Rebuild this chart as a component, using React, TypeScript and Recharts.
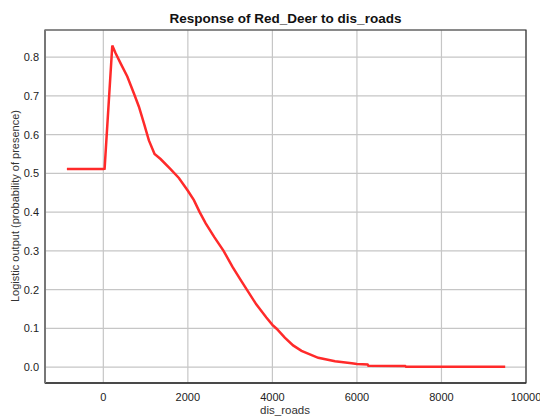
import { LineChart, Line, XAxis, YAxis, CartesianGrid, ReferenceArea, Label } from 'recharts'

// distance to roads (m) and the logistic response
const distRoads = [
  -862, 0, 30, 212, 291, 409, 567, 724, 842, 961, 1078, 1212, 1354, 1590, 1787, 2000, 2143, 2279,
  2422, 2622, 2845, 3060, 3259, 3395, 3618, 3857, 4000, 4100, 4293, 4490, 4689, 5085, 5481, 5877,
  6000, 6250, 6270, 7140, 7160, 9508,
]
const response = [
  0.511, 0.511, 0.512, 0.83, 0.81, 0.784, 0.75, 0.706, 0.672, 0.629, 0.585, 0.55, 0.537, 0.511,
  0.488, 0.455, 0.431, 0.4, 0.371, 0.336, 0.3, 0.258, 0.223, 0.2, 0.162, 0.128, 0.109, 0.099,
  0.076, 0.056, 0.042, 0.024, 0.015, 0.01, 0.008, 0.007, 0.0035, 0.003, 0.001, 0.0008,
]

const xTicks = [0, 2000, 4000, 6000, 8000, 10000]
const yTicks = [0, 0.1, 0.2, 0.3, 0.4, 0.5, 0.6, 0.7, 0.8]
const xDomain: [number, number] = [-1380, 10000]
const yDomain: [number, number] = [-0.041, 0.87]

const data = distRoads.map((d, i) => ({ dist: d, value: response[i] }))

const font = '"Liberation Sans", Arial, sans-serif'

export default function App() {
  return (
    <div
      style={{
        position: 'absolute',
        left: 0,
        top: 0,
        width: 540,
        height: 419,
        background: '#fff',
        overflow: 'hidden',
        fontFamily: font,
      }}
    >
      <div
        style={{
          position: 'absolute',
          left: 45,
          width: 481,
          top: 11,
          textAlign: 'center',
          fontWeight: 'bold',
          fontSize: 13.5,
          color: '#111',
        }}
      >
        Response of Red_Deer to dis_roads
      </div>
      <LineChart
        width={540}
        height={419}
        data={data}
        margin={{ top: 30, right: 14, bottom: 0, left: 0 }}
      >
        <CartesianGrid stroke="#c6c6c6" strokeWidth={1.2} />
        <XAxis
          dataKey="dist"
          type="number"
          domain={xDomain}
          ticks={xTicks}
          allowDataOverflow
          height={36}
          tickLine={false}
          tickSize={3}
          tickMargin={7}
          axisLine={{ stroke: '#333', strokeWidth: 1.5 }}
          tick={{ fontSize: 11, fill: '#222', fontFamily: font }}
        >
          <Label
            content={() => (
              <text x={285} y={414} textAnchor="middle" fontSize={11.5} fill="#333" fontFamily={font}>
                dis_roads
              </text>
            )}
          />
        </XAxis>
        <YAxis
          type="number"
          domain={yDomain}
          ticks={yTicks}
          allowDataOverflow
          width={45}
          tickLine={false}
          tickSize={3}
          tickMargin={3}
          axisLine={{ stroke: '#777', strokeWidth: 2 }}
          tickFormatter={(v: number) => v.toFixed(1)}
          tick={{ fontSize: 11, fill: '#222', fontFamily: font }}
        >
          <Label
            content={() => (
              <text
                x={16}
                y={206}
                textAnchor="middle"
                fontSize={11}
                fill="#333"
                fontFamily={font}
                transform="rotate(-90 16 206)"
                dominantBaseline="middle"
              >
                Logistic output (probability of presence)
              </text>
            )}
          />
        </YAxis>
        <ReferenceArea
          x1={xDomain[0]}
          x2={xDomain[1]}
          y1={yDomain[0]}
          y2={yDomain[1]}
          fill="none"
          stroke="#333"
          strokeWidth={1.2}
          ifOverflow="visible"
        />
        <Line
          type="linear"
          dataKey="value"
          stroke="#ff2a2a"
          strokeWidth={2.5}
          dot={false}
          isAnimationActive={false}
        />
      </LineChart>
    </div>
  )
}
